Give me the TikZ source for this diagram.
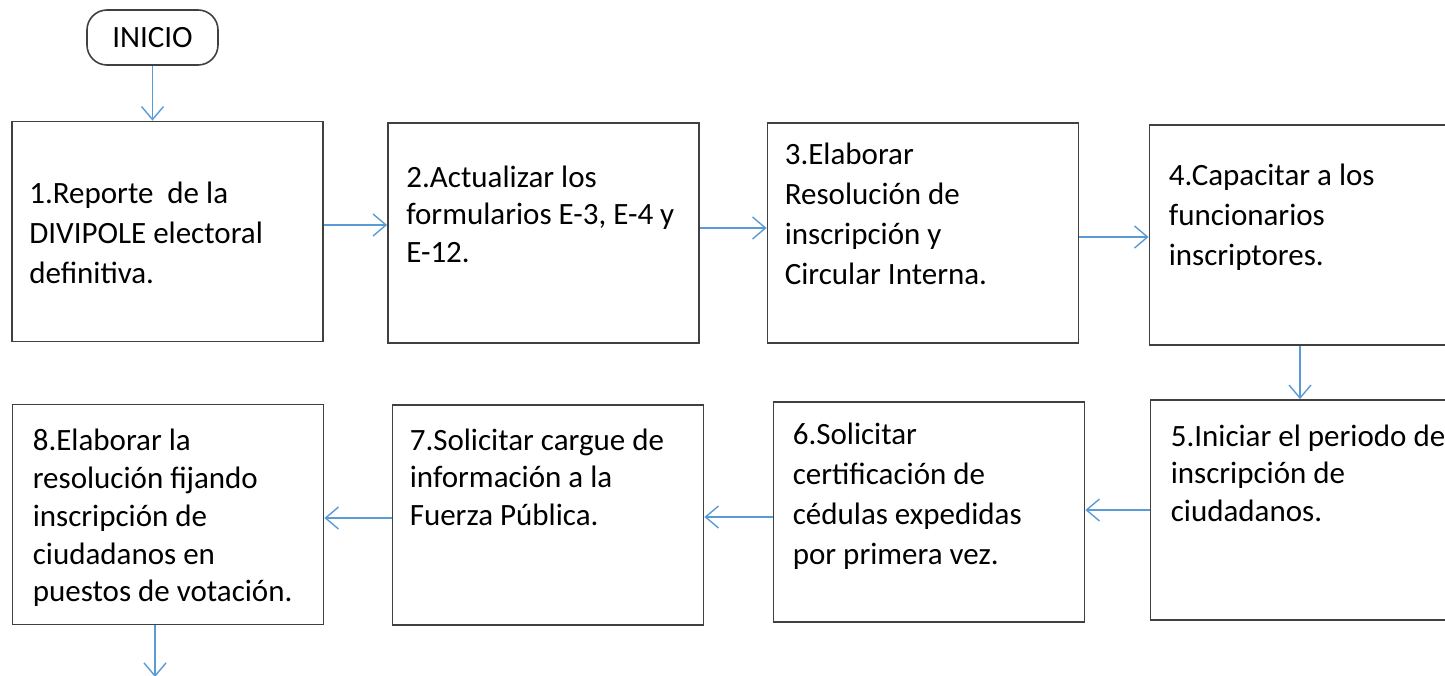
\documentclass[tikz,border=0pt]{standalone}
\usepackage{fontspec}
\setmainfont{Carlito}
\usetikzlibrary{arrows.meta}
\definecolor{azul}{RGB}{91,155,213}
\definecolor{borde}{RGB}{64,64,64}

\begin{document}
\begin{tikzpicture}[x=1pt,y=-1pt]
        %======definicion de los bloques==========%
        
            \tikzstyle{caja}=[rectangle,draw=borde,line width=1.8pt,minimum width=311pt,minimum height=220pt,inner sep=0pt]
            \tikzstyle{texto}=[anchor=base west,inner sep=0pt,text width=330pt,align=flush left,font=\fontsize{31}{37.8}\selectfont]
            \tikzstyle{texto_abierto}=[texto,font=\fontsize{31}{40}\selectfont]
            \tikzstyle{inicio}=[rectangle,rounded corners=20pt,draw=borde,line width=1.6pt,minimum width=131pt,minimum height=55pt,font=\fontsize{31}{36}\selectfont]
            \tikzstyle{flecha}=[-{Straight Barb[length=13pt,width=22pt]},draw=azul,line width=1.4pt]
        
        %====================%%=============%  
        
            \useasboundingbox (0,0) rectangle (1445,676);
            \clip (0,0) rectangle (1445,676);
        
            \node[inicio](I) at (152.5,37.5) {INICIO};
            \node[caja](P1) at (167.5,231.5) {};
            \node[caja](P2) at (543.5,233) {};
            \node[caja](P3) at (923,233) {};
            \node[caja](P4) at (1305,235) {};
            \node[caja](P5) at (1306,510) {};
            \node[caja](P6) at (929,512) {};
            \node[caja](P7) at (548,515) {};
            \node[caja](P8) at (168,514.5) {};
        
            \node[texto_abierto](T1) at ([shift={(18,83)}]P1.north west) {1.Reporte\ \ de la\\DIVIPOLE electoral\\definitiva.};
            \node[texto](T2) at ([shift={(19,65)}]P2.north west) {2.Actualizar los\\formularios E-3, E-4 y\\E-12.};
            \node[texto_abierto](T3) at ([shift={(18,42)}]P3.north west) {3.Elaborar\\Resolución de\\inscripción y\\Circular Interna.};
            \node[texto_abierto](T4) at ([shift={(20,61)}]P4.north west) {4.Capacitar a los\\funcionarios\\inscriptores.};
            \node[texto](T5) at ([shift={(21,47)}]P5.north west) {5.Iniciar el periodo de\\inscripción de\\ciudadanos.};
            \node[texto_abierto](T6) at ([shift={(20,43)}]P6.north west) {6.Solicitar\\certificación de\\cédulas expedidas\\por primera vez.};
            \node[texto](T7) at ([shift={(18,46)}]P7.north west) {7.Solicitar cargue de\\información a la\\Fuerza Pública.};
            \node[texto](T8) at ([shift={(21,47)}]P8.north west) {8.Elaborar la\\resolución fijando\\inscripción de\\ciudadanos en\\puestos de votación.};
        
            \coordinate (fin) at (155,677);
        
            \draw[flecha](I.south) -- (I.south |- P1.north);
            \draw[flecha]([yshift=6.5pt]P1.east) -- ([yshift=6.5pt]P1.east -| P2.west);
            \draw[flecha]([yshift=5pt]P2.east) -- ([yshift=5pt]P2.east -| P3.west);
            \draw[flecha]([yshift=-4pt]P3.east) -- ([yshift=-4pt]P3.east -| P4.west);
            \draw[flecha]([xshift=-5pt]P4.south) -- ([xshift=-5pt]P4.south |- P5.north);
            \draw[flecha](P5.west) -- (P5.west -| P6.east);
            \draw[flecha]([yshift=-5pt]P6.west) -- ([yshift=-5pt]P6.west -| P7.east);
            \draw[flecha]([yshift=-3pt]P7.west) -- ([yshift=-3pt]P7.west -| P8.east);
            \draw[flecha]([xshift=-13pt]P8.south) -- (fin);
        \end{tikzpicture}
\end{document}
